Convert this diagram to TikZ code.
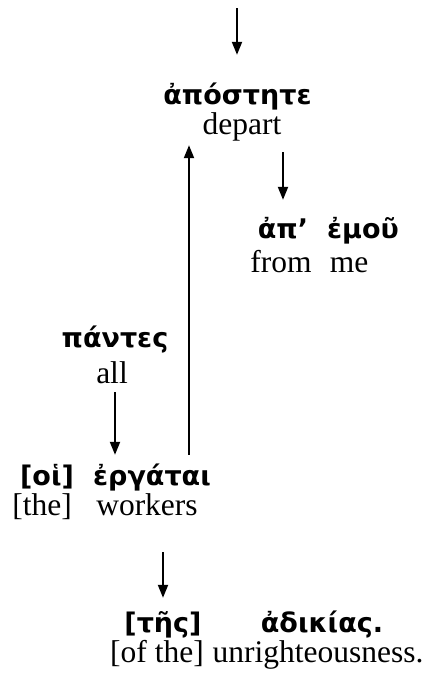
\documentclass[tikz,border=0pt]{standalone}
\usepackage{fontspec}
\setmainfont{Liberation Serif}
\newfontfamily\grk{DejaVu Sans}
\usetikzlibrary{arrows.meta}
\begin{document}
\begin{tikzpicture}[x=1pt,y=-1pt,
  gr/.style={font=\grk\bfseries\fontsize{27}{30}\selectfont, inner sep=0pt, anchor=base, text height=22pt, text depth=4pt},
  en/.style={font=\fontsize{31.5}{36}\selectfont, inner sep=0pt, anchor=base, text height=19pt, text depth=7pt},
  arr/.style={line width=2pt, -{Triangle[length=13pt,width=10pt]}}]
\useasboundingbox (0,0) rectangle (432,681);
% words
\node[gr] (apost) at (237.5,104) {ἀπόστητε};
\node[en] (dep) at (242,134) {depart};
\node[gr] (ap) at (283,238) {ἀπ’};
\node[gr] (emou) at (363,238) {ἐμοῦ};
\node[en] (from) at (281,272) {from};
\node[en] (me) at (349,272) {me};
\node[gr] (pantes) at (115,347) {πάντες};
\node[en] (all) at (112,383) {all};
\node[gr] (hoi) at (47,485.5) {[οἱ]};
\node[gr] (erg) at (152,485.5) {ἐργάται};
\node[en] (the) at (42,515) {[the]};
\node[en] (workers) at (147,515) {workers};
\node[gr] (tes) at (163,632.5) {[τῆς]};
\node[gr] (adikias) at (322,632.5) {ἀδικίας.};
\node[en] (ofthe) at (157,662) {[of the]};
\node[en] (unr) at (318,662) {unrighteousness.};
% connectors
\coordinate (topstart) at (237,8);
\coordinate (upx) at (189,0);
\draw[arr, shorten >=27pt] (topstart) -- (topstart |- apost.north);
\draw[arr, shorten <=11pt, shorten >=16pt] (ap.north |- dep.south) -- (ap.north);
\draw[arr, shorten <=8.5pt, shorten >=4pt] (upx |- erg.north) -- (upx |- dep.south);
\draw[arr, shorten <=2pt, shorten >=8.5pt] (pantes.south |- all.south) -- (pantes.south |- erg.north);
\draw[arr, shorten <=30pt, shorten >=12.5pt] (tes.north |- workers.south) -- (tes.north);
\end{tikzpicture}
\end{document}
